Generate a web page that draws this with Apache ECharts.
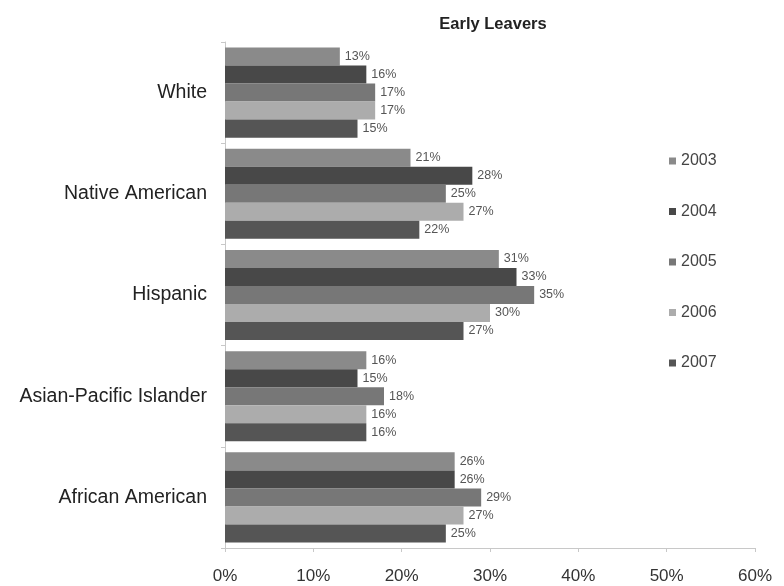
<!DOCTYPE html>
<html>
<head>
<meta charset="utf-8">
<script src="https://cdn.jsdelivr.net/npm/echarts@6/dist/echarts.min.js"></script>
<style>
  html, body { margin: 0; padding: 0; background: #fff; }
  #chart { width: 784px; height: 586px; }
</style>
</head>
<body>
<div id="chart"></div>
<script>
var categories = ['White', 'Native American', 'Hispanic', 'Asian-Pacific Islander', 'African American'];
var years = ['2003', '2004', '2005', '2006', '2007'];
var v2003 = [13, 21, 31, 16, 26];
var v2004 = [16, 28, 33, 15, 26];
var v2005 = [17, 25, 35, 18, 29];
var v2006 = [17, 27, 30, 16, 27];
var v2007 = [15, 22, 27, 16, 25];
var xTicks = [0, 10, 20, 30, 40, 50, 60];

var _values = [v2003, v2004, v2005, v2006, v2007],
  _colors = ['#8a8a8a', '#484848', '#777777', '#acacac', '#555555'];

function buildSeries() {
  return years.map(function (year, i) {
    return {
      name: year,
      type: 'bar',
      barGap: '0%',
      barCategoryGap: '11%',
      itemStyle: {
        color: _colors[i]
      },
      label: {
        show: true,
        position: 'right',
        distance: 5,
        formatter: '{c}%',
        color: '#555',
        fontSize: 12.5,
        fontFamily: 'Liberation Sans'
      },
      data: _values[i]
    };
  });
}

var myChart = echarts.init(document.getElementById('chart'));
var option = {
  animation: false,
  color: _colors,
  title: {
    text: 'Early Leavers',
    left: 488,
    textAlign: 'center',
    top: 11,
    textStyle: {
      color: '#222',
      fontSize: 16.5,
      fontWeight: 'bold',
      fontFamily: 'Liberation Sans'
    }
  },
  legend: {
    orient: 'vertical',
    left: 664,
    top: 148,
    itemGap: 34.5,
    itemWidth: 7,
    itemHeight: 7,
    icon: 'rect',
    textStyle: {
      color: '#444',
      fontSize: 16,
      fontFamily: 'Liberation Sans'
    },
    data: years
  },
  grid: {
    left: 225,
    right: 29,
    top: 42,
    bottom: 38
  },
  xAxis: {
    type: 'value',
    min: xTicks[0],
    max: xTicks[xTicks.length - 1],
    interval: 10,
    axisLine: {
      show: true,
      lineStyle: { color: '#c8c8c8' }
    },
    axisTick: {
      show: true,
      length: 4,
      lineStyle: { color: '#c8c8c8' }
    },
    splitLine: { show: false },
    axisLabel: {
      formatter: '{value}%',
      color: '#333',
      fontSize: 17,
      margin: 20,
      fontFamily: 'Liberation Sans'
    }
  },
  yAxis: {
    type: 'category',
    inverse: true,
    data: categories,
    axisLine: {
      show: true,
      lineStyle: { color: '#c8c8c8' }
    },
    axisTick: {
      show: true,
      length: 4,
      lineStyle: { color: '#c8c8c8' }
    },
    axisLabel: {
      color: '#222',
      fontSize: 19.5,
      margin: 18,
      fontFamily: 'Liberation Sans'
    }
  },
  series: buildSeries()
};
myChart.setOption(option, true);
</script>
</body>
</html>
